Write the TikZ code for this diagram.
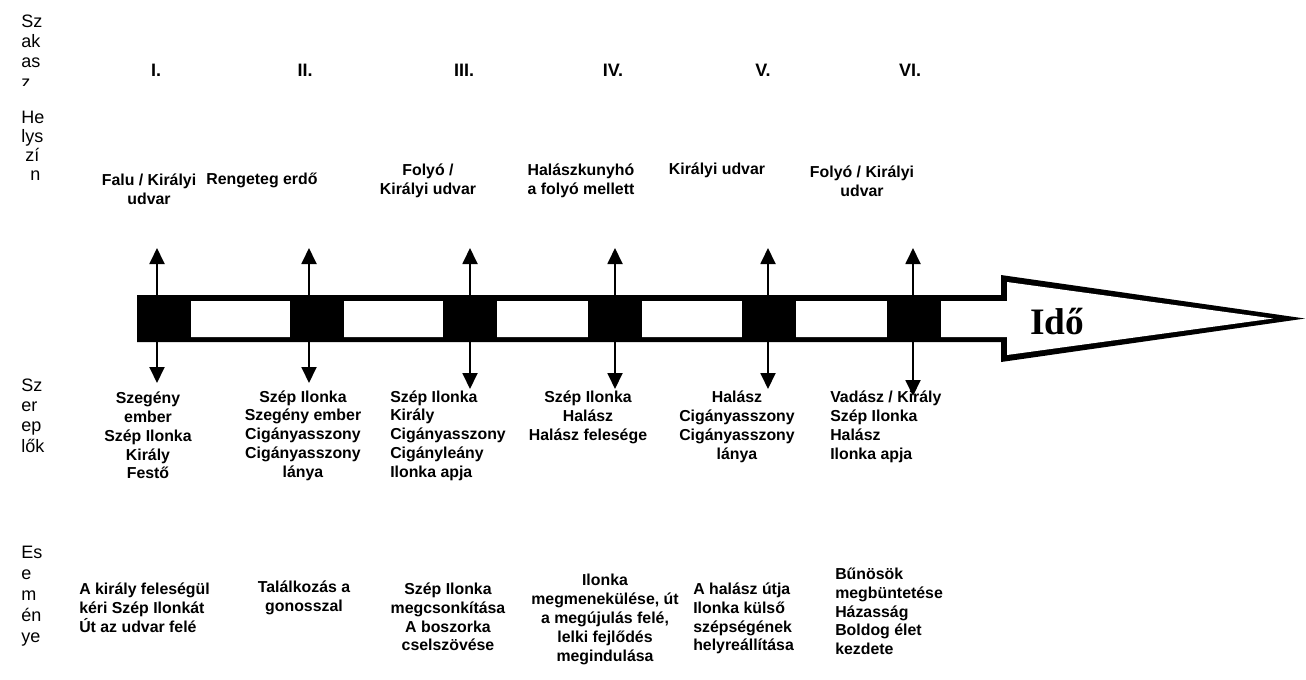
\documentclass[tikz,border=0pt]{standalone}
\usepackage{fontspec}
\setmainfont{Liberation Sans}
\newfontfamily\timesfont{Liberation Serif}
\usetikzlibrary{arrows.meta}
\tikzset{ wp/.style = { anchor = base west % word piece, left column
    , inner sep = 0
    , font = \fontsize{13.5}{16}\selectfont
    }
  , rn/.style = { inner sep = 0 % roman numeral
    , font = \bfseries\fontsize{13.5}{16}\selectfont
    }
  , lb/.style = { align = center % label
    , inner sep = 0
    , font = \bfseries\fontsize{11.9}{14.1}\selectfont
    }
  , lbl/.style = { lb % label, left aligned
    , align = left
    , anchor = west
    }
  , blk/.style = { rectangle % black block
    , fill = black
    , inner sep = 0
    , minimum width = 40.5pt
    , minimum height = 35.25pt
    }
  , ar/.style = { -{Triangle[width=11.25pt,length=12pt]} % up / down arrow
    , line width = 1.4pt
    }
}

\begin{document}
\begin{tikzpicture}[x=0.75pt, y=-0.75pt]
  \useasboundingbox (0,0) rectangle (1306,679);

  % left column
  \foreach[count=\n] \w/\y in {Sz/27, ak/47, as/67} \node[wp] (a\n) at (21,\y) {\w};
  \begin{scope}
    \clip (0,0) rectangle (100,85);
    \node[wp] (a4) at (21,88) {z};
  \end{scope}
  \foreach[count=\n] \w/\x/\y in {He/21/123, lys/21/142, zí/25/161, n/30/180} \node[wp] (b\n) at (\x,\y) {\w};
  \foreach[count=\n] \w/\y in {Sz/391, er/411, ep/431, lők/452} \node[wp] (c\n) at (21,\y) {\w};
  \foreach[count=\n] \w/\y in {Es/558, e/579, m/600, én/621, ye/642} \node[wp] (d\n) at (21,\y) {\w};

  % time arrow
  \fill (137,295) -- (1001,295) -- (1001,275) -- (1305,318.5) -- (1001,362) -- (1001,342) -- (137,342) -- cycle;
  \fill[white] (143,301) -- (1007,301) -- (1007,282) -- (1273,318.5) -- (1007,355) -- (1007,337) -- (143,337) -- cycle;
  \node[font=\timesfont\bfseries\fontsize{28}{32}\selectfont, inner sep=0] (ido) at (1057,322) {Idő};

  % blocks and arrows
  \foreach \i/\x in {1/164, 2/317, 3/470, 4/615, 5/768.5, 6/914} \node[blk] (k\i) at (\x,318.5) {};
  \foreach \i/\x/\d in {1/157/383, 2/309/383, 3/470/389, 4/615/389, 5/768/389, 6/913/396} {
    \coordinate (u\i) at (\x,248);
    \coordinate (v\i) at (\x,\d);
    \draw[ar] (u\i |- k\i.north) -- (u\i);
    \draw[ar] (v\i |- k\i.south) -- (v\i);
  }

  % szakasz
  \foreach[count=\n] \x/\r in {156/I., 305/II., 464/III., 613/IV., 763/V., 910/VI.} \node[rn] (r\n) at (\x,70) {\r};

  % helyszin
  \node[lb] (h1) at (149,189.5) {Falu / Királyi\\udvar};
  \node[lb] (h2) at (262,180) {Rengeteg erdő};
  \node[lb] (h3) at (428,181) {Folyó /\\Királyi udvar};
  \node[lb] (h4) at (581,181) {Halászkunyhó\\a folyó mellett};
  \node[lb] (h5) at (717,170) {Királyi udvar};
  \node[lb] (h6) at (862,181) {Folyó / Királyi\\udvar};

  % szereplok
  \node[lb] (s1) at (148,435.5) {Szegény\\ember\\Szép Ilonka\\Király\\Festő};
  \node[lb] (s2) at (303,435.5) {Szép Ilonka\\Szegény ember\\Cigányasszony\\Cigányasszony\\lánya};
  \node[lbl] (s3) at (390,435.5) {Szép Ilonka\\Király\\Cigányasszony\\Cigányleány\\Ilonka apja};
  \node[lb] (s4) at (588,417.5) {Szép Ilonka\\Halász\\Halász felesége};
  \node[lb] (s5) at (737,427) {Halász\\Cigányasszony\\Cigányasszony\\lánya};
  \node[lbl] (s6) at (830,427) {Vadász / Király\\Szép Ilonka\\Halász\\Ilonka apja};

  % esemenyek
  \node[lbl] (e1) at (79,608) {A király feleségül\\kéri Szép Ilonkát\\Út az udvar felé};
  \node[lb] (e2) at (304,598) {Találkozás a\\gonosszal};
  \node[lb] (e3) at (448,617) {Szép Ilonka\\megcsonkítása\\A boszorka\\cselszövése};
  \node[lb] (e4) at (605,619.5) {Ilonka\\megmenekülése, út\\a megújulás felé,\\lelki fejlődés\\megindulása};
  \node[lbl] (e5) at (693,618.5) {A halász útja\\Ilonka külső\\szépségének\\helyreállítása};
  \node[lbl] (e6) at (835,611.5) {Bűnösök\\megbüntetése\\Házasság\\Boldog élet\\kezdete};
\end{tikzpicture}
\end{document}
